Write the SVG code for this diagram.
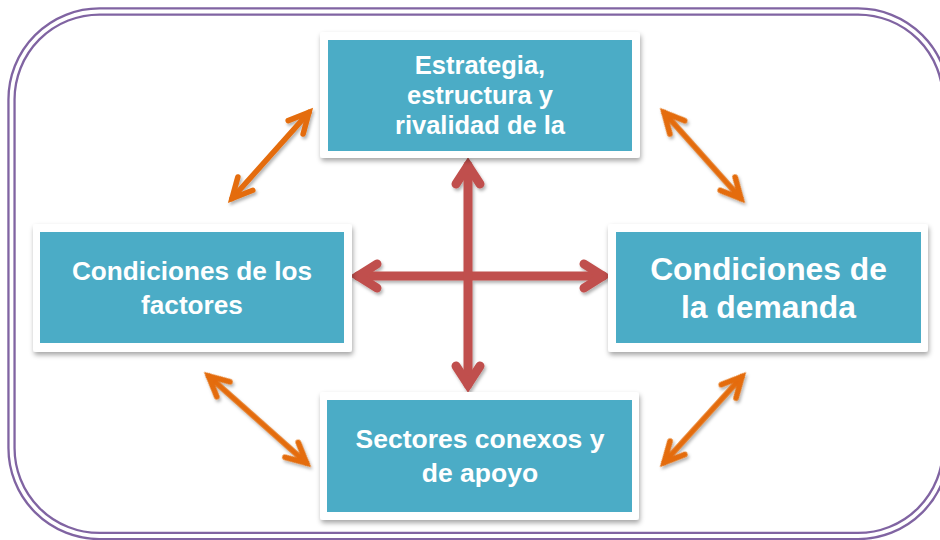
<svg xmlns="http://www.w3.org/2000/svg" width="940" height="540" viewBox="0 0 940 540">
  <defs>
    <filter id="boxShadow" x="-10%" y="-10%" width="120%" height="130%">
      <feDropShadow dx="1" dy="3" stdDeviation="2.5" flood-color="#000" flood-opacity="0.35"/>
    </filter>
    <filter id="arrowShadow" x="-10%" y="-10%" width="120%" height="120%">
      <feDropShadow dx="1.5" dy="2.5" stdDeviation="1.8" flood-color="#000" flood-opacity="0.3"/>
    </filter>
    <style>
      .frameOuter { fill: none; stroke: #8064A2; stroke-width: 8.4; }
      .frameInner { fill: none; stroke: #ffffff; stroke-width: 3.8; }
      .box { fill: #ffffff; filter: url(#boxShadow); }
      .teal { fill: #4BACC6; }
      .lbl { font-family: "Liberation Sans", Arial, sans-serif; font-weight: bold; fill: #ffffff; text-anchor: middle; }
      .red { fill: none; stroke: #C0504D; stroke-width: 9; stroke-linecap: round; stroke-linejoin: miter; }
      .orange { fill: none; stroke: #E46C0A; stroke-width: 5.5; stroke-linecap: round; stroke-linejoin: miter; }
    </style>
  </defs>

  <g id="frame">
    <rect class="frameOuter" x="11.5" y="11.5" width="934.5" height="524.5" rx="88" ry="88"/>
    <rect class="frameInner" x="11.5" y="11.5" width="934.5" height="524.5" rx="88" ry="88"/>
  </g>

  <g id="connectors">
    <g filter="url(#arrowShadow)">
      <!-- red cross arrows -->
      <line class="red" x1="358" y1="276" x2="603" y2="276"/>
      <polyline class="red" points="377,264 358,276 377,288"/>
      <polyline class="red" points="584,264 603,276 584,288"/>
      <line class="red" x1="468" y1="165.5" x2="468" y2="384.5"/>
      <polyline class="red" points="456,184 468,165.5 480,184"/>
      <polyline class="red" points="456,366 468,384.5 480,366"/>
    </g>
    <g filter="url(#arrowShadow)">
      <!-- top-left -->
      <g transform="translate(228,203) rotate(-48.2)">
        <line class="orange" x1="6" y1="0" x2="121.5" y2="0"/>
        <polyline class="orange" points="26,-10 6,0 26,10"/>
        <polyline class="orange" points="101.5,-10 121.5,0 101.5,10"/>
      </g>
      <!-- top-right -->
      <g transform="translate(660,108) rotate(48.2)">
        <line class="orange" x1="6" y1="0" x2="121.5" y2="0"/>
        <polyline class="orange" points="26,-10 6,0 26,10"/>
        <polyline class="orange" points="101.5,-10 121.5,0 101.5,10"/>
      </g>
      <!-- bottom-left -->
      <g transform="translate(204,372) rotate(41.6)">
        <line class="orange" x1="6" y1="0" x2="137.1" y2="0"/>
        <polyline class="orange" points="26,-10 6,0 26,10"/>
        <polyline class="orange" points="117.1,-10 137.1,0 117.1,10"/>
      </g>
      <!-- bottom-right -->
      <g transform="translate(660,467) rotate(-47.8)">
        <line class="orange" x1="6" y1="0" x2="122.1" y2="0"/>
        <polyline class="orange" points="26,-10 6,0 26,10"/>
        <polyline class="orange" points="102.1,-10 122.1,0 102.1,10"/>
      </g>
    </g>
  </g>

  <g id="node-estrategia">
    <rect class="box" x="320" y="32" width="320" height="126" rx="3"/>
    <rect class="teal" x="328" y="40" width="304" height="111"/>
    <text class="lbl" font-size="25.5" x="480" y="74">Estrategia,</text>
    <text class="lbl" font-size="25.5" x="480" y="104">estructura y</text>
    <text class="lbl" font-size="25.5" x="480" y="134">rivalidad de la</text>
  </g>

  <g id="node-factores">
    <rect class="box" x="33" y="224" width="319" height="128" rx="3"/>
    <rect class="teal" x="40" y="232" width="304" height="111"/>
    <text class="lbl" font-size="26.2" x="192" y="280">Condiciones de los</text>
    <text class="lbl" font-size="26.2" x="192" y="314">factores</text>
  </g>

  <g id="node-demanda">
    <rect class="box" x="608" y="224" width="320" height="128" rx="3"/>
    <rect class="teal" x="616" y="232" width="305" height="111"/>
    <text class="lbl" font-size="31.8" x="768.5" y="280">Condiciones de</text>
    <text class="lbl" font-size="31.8" x="768.5" y="318">la demanda</text>
  </g>

  <g id="node-sectores">
    <rect class="box" x="320" y="392" width="319" height="128" rx="3"/>
    <rect class="teal" x="327" y="400" width="305" height="112"/>
    <text class="lbl" font-size="26.5" x="480" y="448">Sectores conexos y</text>
    <text class="lbl" font-size="26.5" x="480" y="482">de apoyo</text>
  </g>
</svg>
